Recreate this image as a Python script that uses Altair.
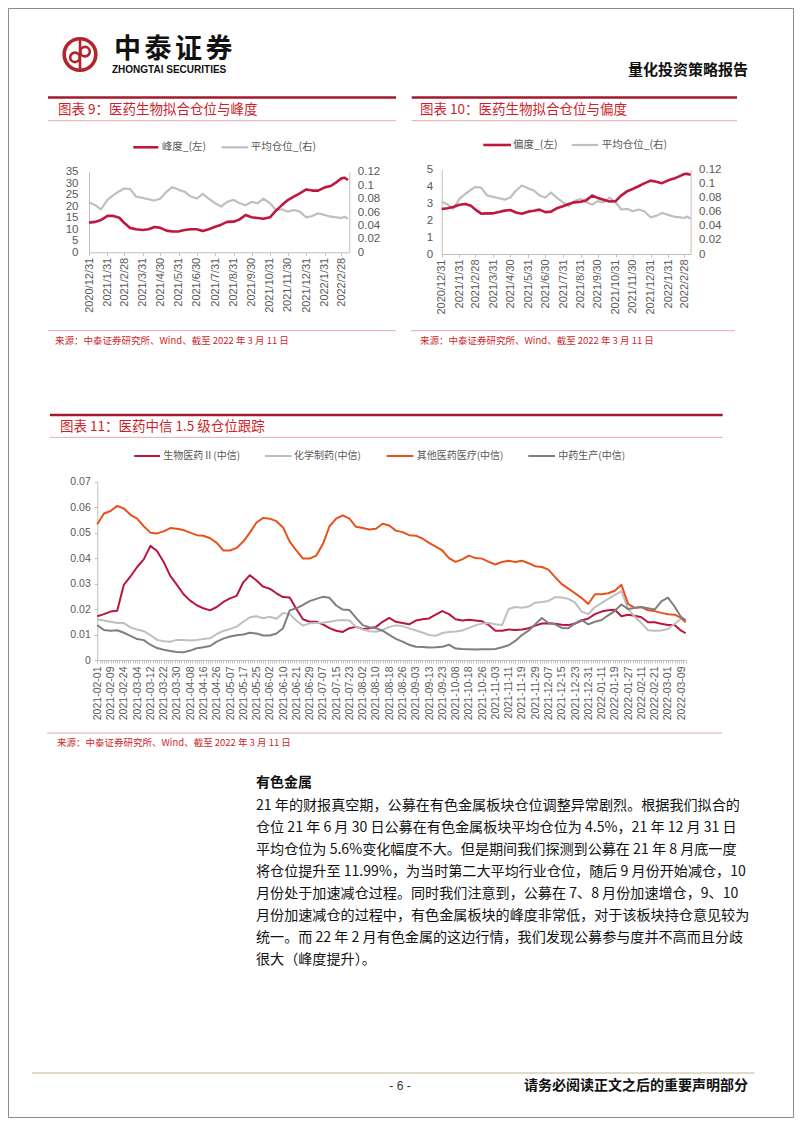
import json
import altair as alt
import pandas as pd

W, H = 786, 1110
OFF = 8  # page margin

CJK = "Noto Sans CJK SC"
LAT = "Liberation Sans"
C_RED = "#c0173e"
C_GRAY = "#bfbfbf"
C_ORANGE = "#e8511c"
C_DGRAY = "#7f7f7f"
C_TITLE = "#cc1f2c"
C_DARKRED = "#a31a2c"
C_PINK = "#e8a9ad"
C_AX = "#595959"

# ---------------- data: charts 9 / 10 ----------------
dates9 = ["2020-12-31", "2021-01-10", "2021-01-20", "2021-01-31", "2021-02-10", "2021-02-20",
          "2021-02-28", "2021-03-10", "2021-03-20", "2021-03-31", "2021-04-10", "2021-04-20",
          "2021-04-30", "2021-05-10", "2021-05-20", "2021-05-31", "2021-06-10", "2021-06-20",
          "2021-06-30", "2021-07-10", "2021-07-20", "2021-07-31", "2021-08-10", "2021-08-20",
          "2021-08-31", "2021-09-10", "2021-09-20", "2021-09-30", "2021-10-10", "2021-10-20",
          "2021-10-31", "2021-11-10", "2021-11-20", "2021-11-30", "2021-12-10", "2021-12-20",
          "2021-12-31", "2022-01-10", "2022-01-20", "2022-01-31", "2022-02-10", "2022-02-20",
          "2022-02-28", "2022-03-05", "2022-03-11"]
kurtosis = [12.9, 13.2, 14.0, 15.8, 15.8, 15.0, 12.8, 10.6, 10.0, 9.7, 10.0, 11.0,
            10.6, 9.4, 9.0, 9.1, 9.7, 10.0, 10.0, 9.2, 10.0, 11.1, 12.0, 13.2,
            13.3, 14.3, 16.2, 15.2, 14.9, 14.6, 15.2, 18.1, 20.5, 22.7, 24.2, 25.6,
            27.3, 26.8, 26.8, 28.2, 28.8, 30.5, 32.1, 32.4, 31.4]
skewness = [2.66, 2.70, 2.78, 2.91, 2.95, 2.85, 2.62, 2.38, 2.40, 2.40, 2.48, 2.56,
            2.60, 2.45, 2.38, 2.50, 2.55, 2.62, 2.47, 2.50, 2.70, 2.82, 2.95, 3.05,
            3.08, 3.18, 3.45, 3.30, 3.20, 3.10, 3.12, 3.46, 3.70, 3.84, 4.00, 4.17,
            4.33, 4.27, 4.18, 4.35, 4.45, 4.60, 4.72, 4.73, 4.68]
avg_position = [0.074, 0.0705, 0.064, 0.078, 0.085, 0.091, 0.095, 0.094, 0.083, 0.081, 0.079, 0.077,
                0.080, 0.090, 0.097, 0.093, 0.090, 0.083, 0.080, 0.087, 0.080, 0.073, 0.068, 0.075,
                0.078, 0.073, 0.070, 0.075, 0.073, 0.080, 0.073, 0.063, 0.064, 0.0605, 0.063, 0.0605,
                0.052, 0.054, 0.058, 0.0555, 0.053, 0.052, 0.051, 0.053, 0.050]
month_labels = ["2020/12/31", "2021/1/31", "2021/2/28", "2021/3/31", "2021/4/30", "2021/5/31",
                "2021/6/30", "2021/7/31", "2021/8/31", "2021/9/30", "2021/10/31", "2021/11/30",
                "2021/12/31", "2022/1/31", "2022/2/28"]

# ---------------- data: chart 11 (every 3rd trading day, last = 2022-03-11) ----------------
trade_labels = ["2021-02-01", "2021-02-09", "2021-02-24", "2021-03-04", "2021-03-12", "2021-03-22",
                "2021-03-30", "2021-04-08", "2021-04-16", "2021-04-26", "2021-05-07", "2021-05-17",
                "2021-05-25", "2021-06-02", "2021-06-10", "2021-06-21", "2021-06-29", "2021-07-07",
                "2021-07-15", "2021-07-23", "2021-08-02", "2021-08-10", "2021-08-18", "2021-08-26",
                "2021-09-03", "2021-09-13", "2021-09-23", "2021-10-08", "2021-10-18", "2021-10-26",
                "2021-11-03", "2021-11-11", "2021-11-19", "2021-11-29", "2021-12-07", "2021-12-15",
                "2021-12-23", "2021-12-31", "2022-01-11", "2022-01-19", "2022-01-27", "2022-02-11",
                "2022-02-21", "2022-03-01", "2022-03-09"]
bio_pharma = [0.0172, 0.0180, 0.0190, 0.0193, 0.0295, 0.0328, 0.0365, 0.0395, 0.0448, 0.0428,
              0.0385, 0.0330, 0.0295, 0.0258, 0.0233, 0.0215, 0.0203, 0.0195, 0.0208, 0.0228,
              0.0242, 0.0252, 0.0305, 0.0333, 0.0312, 0.0288, 0.0280, 0.0262, 0.0247, 0.0245,
              0.0200, 0.0160, 0.0150, 0.0150, 0.0140, 0.0125, 0.0115, 0.0110, 0.0125, 0.0130,
              0.0122, 0.0125, 0.0130, 0.0150, 0.0165, 0.0150, 0.0145, 0.0140, 0.0155, 0.0160,
              0.0163, 0.0178, 0.0192, 0.0180, 0.0160, 0.0155, 0.0158, 0.0155, 0.0152, 0.0137,
              0.0115, 0.0115, 0.0120, 0.0118, 0.0120, 0.0125, 0.0135, 0.0143, 0.0144, 0.0142,
              0.0138, 0.0137, 0.0143, 0.0155, 0.0163, 0.0180, 0.0190, 0.0195, 0.0197, 0.0172,
              0.0178, 0.0174, 0.0168, 0.0148, 0.0148, 0.0142, 0.0137, 0.0137, 0.0115, 0.0105]
chem_pharma = [0.0160, 0.0155, 0.0150, 0.0145, 0.0145, 0.0128, 0.0120, 0.0113, 0.0098, 0.0079,
               0.0074, 0.0072, 0.0079, 0.0079, 0.0077, 0.0079, 0.0082, 0.0085, 0.0102, 0.0114,
               0.0122, 0.0131, 0.0150, 0.0168, 0.0172, 0.0164, 0.0170, 0.0162, 0.0185, 0.0180,
               0.0155, 0.0135, 0.0144, 0.0145, 0.0146, 0.0150, 0.0155, 0.0157, 0.0155, 0.0130,
               0.0120, 0.0113, 0.0111, 0.0118, 0.0130, 0.0136, 0.0133, 0.0124, 0.0116, 0.0108,
               0.0098, 0.0095, 0.0106, 0.0110, 0.0112, 0.0116, 0.0126, 0.0136, 0.0143, 0.0145,
               0.0140, 0.0137, 0.0200, 0.0208, 0.0205, 0.0210, 0.0225, 0.0228, 0.0232, 0.0247,
               0.0245, 0.0240, 0.0225, 0.0190, 0.0180, 0.0208, 0.0223, 0.0240, 0.0255, 0.0270,
               0.0200, 0.0170, 0.0145, 0.0117, 0.0115, 0.0116, 0.0122, 0.0142, 0.0163, 0.0158]
other_medical = [0.0533, 0.0575, 0.0585, 0.0605, 0.0595, 0.0570, 0.0555, 0.0525, 0.0500, 0.0497,
                 0.0505, 0.0518, 0.0515, 0.0510, 0.0500, 0.0490, 0.0488, 0.0478, 0.0460, 0.0430,
                 0.0430, 0.0440, 0.0465, 0.0500, 0.0540, 0.0558, 0.0555, 0.0545, 0.0520, 0.0465,
                 0.0430, 0.0398, 0.0398, 0.0410, 0.0455, 0.0525, 0.0555, 0.0568, 0.0555, 0.0523,
                 0.0518, 0.0512, 0.0515, 0.0535, 0.0528, 0.0508, 0.0502, 0.0490, 0.0488, 0.0477,
                 0.0460, 0.0445, 0.0430, 0.0400, 0.0385, 0.0395, 0.0410, 0.0400, 0.0398, 0.0385,
                 0.0375, 0.0385, 0.0390, 0.0385, 0.0390, 0.0380, 0.0368, 0.0365, 0.0355, 0.0325,
                 0.0298, 0.0280, 0.0262, 0.0243, 0.0220, 0.0258, 0.0258, 0.0262, 0.0272, 0.0295,
                 0.0220, 0.0205, 0.0208, 0.0195, 0.0192, 0.0185, 0.0180, 0.0178, 0.0165, 0.0148]
tcm = [0.0137, 0.0118, 0.0115, 0.0117, 0.0107, 0.0095, 0.0082, 0.0078, 0.0060, 0.0047,
       0.0040, 0.0035, 0.0031, 0.0030, 0.0037, 0.0046, 0.0050, 0.0055, 0.0072, 0.0084,
       0.0092, 0.0097, 0.0100, 0.0107, 0.0104, 0.0096, 0.0096, 0.0104, 0.0125, 0.0195,
       0.0203, 0.0216, 0.0231, 0.0240, 0.0248, 0.0244, 0.0214, 0.0198, 0.0196, 0.0165,
       0.0137, 0.0129, 0.0125, 0.0115, 0.0099, 0.0083, 0.0072, 0.0060, 0.0052, 0.0051,
       0.0049, 0.0050, 0.0052, 0.0060, 0.0045, 0.0043, 0.0042, 0.0041, 0.0042, 0.0042,
       0.0043, 0.0050, 0.0058, 0.0075, 0.0098, 0.0115, 0.0140, 0.0165, 0.0145, 0.0140,
       0.0126, 0.0125, 0.0144, 0.0157, 0.0140, 0.0150, 0.0157, 0.0175, 0.0193, 0.0218,
       0.0200, 0.0204, 0.0208, 0.0203, 0.0198, 0.0230, 0.0245, 0.0210, 0.0168, 0.0157]
trade_day_idx = [3 * i for i in range(89)] + [266]

# ---------------- text content ----------------
para_lines = [
    "21 年的财报真空期，公募在有色金属板块仓位调整异常剧烈。根据我们拟合的",
    "仓位 21 年 6 月 30 日公募在有色金属板块平均仓位为 4.5%，21 年 12 月 31 日",
    "平均仓位为 5.6%变化幅度不大。但是期间我们探测到公募在 21 年 8 月底一度",
    "将仓位提升至 11.99%，为当时第二大平均行业仓位，随后 9 月份开始减仓，10",
    "月份处于加速减仓过程。同时我们注意到，公募在 7、8 月份加速增仓，9、10",
    "月份加速减仓的过程中，有色金属板块的峰度非常低，对于该板块持仓意见较为",
    "统一。而 22 年 2 月有色金属的这边行情，我们发现公募参与度并不高而且分歧",
    "很大（峰度提升）。",
]
SRC = "来源：中泰证券研究所、Wind、截至 2022 年 3 月 11 日"


def P(v):
    return v - OFF


base = pd.Timestamp("2020-12-31")
day9 = [(pd.Timestamp(d) - base).days for d in dates9]
df9 = pd.DataFrame({"d": day9, "kurt": kurtosis, "skew": skewness, "pos": avg_position})
tick9 = [(pd.to_datetime(s, format="%Y/%m/%d") - base).days for s in month_labels]
expr9 = f"{json.dumps(month_labels)}[indexof({json.dumps(tick9)}, datum.value)]"

df11 = pd.DataFrame({"d": trade_day_idx, "bio": bio_pharma, "chem": chem_pharma,
                     "oth": other_medical, "tcm": tcm})
expr11 = f"datum.value % 6 == 0 ? {json.dumps(trade_labels)}[datum.value / 6] : ''"

AXBASE = dict(grid=False, title=None, labelFont=LAT, labelColor=C_AX, domainColor="#bfbfbf",
              tickColor="#bfbfbf", labelOverlap=False, labelFlush=False)


def xaxis_month(axis_y, size=11):
    return alt.Axis(orient="bottom", offset=axis_y - H, values=tick9, labelExpr=expr9,
                    labelAngle=270, labelFontSize=size, tickSize=3, labelPadding=2, **AXBASE)


def yaxis(orient, pos_x, values, fmt, size, pad, ticks=0):
    off = -pos_x if orient == "left" else pos_x - W
    return alt.Axis(orient=orient, offset=off, values=values, format=fmt, labelFontSize=size,
                    tickSize=ticks, labelPadding=pad, **AXBASE)


def line(df, xf, yf, xs, ys, color, width, xa=None, ya=None):
    return alt.Chart(df).mark_line(color=color, strokeWidth=width, strokeJoin="round").encode(
        x=alt.X(f"{xf}:Q", scale=xs, axis=xa),
        y=alt.Y(f"{yf}:Q", scale=ys, axis=ya),
    )


def sc(domain, rng):
    return alt.Scale(domain=domain, range=rng, nice=False, zero=False)


layers = []

# page frame
layers.append(alt.Chart(pd.DataFrame({"a": [0]})).mark_rect(fillOpacity=0, stroke="#8c8c8c", strokeWidth=1).encode(
    x=alt.value(0.5), x2=alt.value(W - 0.5), y=alt.value(0.5), y2=alt.value(H - 0.5)))

# ---- chart 9 ----
x9 = sc([0, 437.2], [P(89), P(349.3)])
y9l = sc([0, 35], [P(252.3), P(171.7)])
y9r = sc([0, 0.12], [P(252.3), P(171.7)])
layers.append(line(df9, "d", "pos", x9, y9r, C_GRAY, 2.2,
                   ya=yaxis("right", P(349.3), [0, 0.02, 0.04, 0.06, 0.08, 0.1, 0.12], ".2~f", 11.5, 8)))
layers.append(line(df9, "d", "kurt", x9, y9l, C_RED, 2.6, xa=xaxis_month(P(252.3)),
                   ya=yaxis("left", P(89), [0, 5, 10, 15, 20, 25, 30, 35], "d", 11.5, 11)))

# ---- chart 10 ----
x10 = sc([0, 435], [P(441.7), P(690.6)])
y10l = sc([0, 5], [P(254), P(169.3)])
y10r = sc([0, 0.12], [P(254), P(169.3)])
layers.append(line(df9, "d", "pos", x10, y10r, C_GRAY, 2.2,
                   ya=yaxis("right", P(690.6), [0, 0.02, 0.04, 0.06, 0.08, 0.1, 0.12], ".2~f", 11.5, 8)))
layers.append(line(df9, "d", "skew", x10, y10l, C_RED, 2.6, xa=xaxis_month(P(254)),
                   ya=yaxis("left", P(441.7), [0, 1, 2, 3, 4, 5], "d", 11.5, 9)))

# ---- chart 11 ----
x11 = sc([0, 266], [P(97.3), P(97.3 + 266 * 2.2117)])
y11 = sc([0, 0.07], [P(660), P(481.7)])
ax11x = alt.Axis(orient="bottom", offset=P(660) - H, values=list(range(267)), labelExpr=expr11,
                 labelAngle=270, labelFontSize=10.5, tickSize=3, labelPadding=3, **AXBASE)
ax11y = yaxis("left", P(97.3), [0, 0.01, 0.02, 0.03, 0.04, 0.05, 0.06, 0.07], ".2~f", 10.5, 4, ticks=3)
layers.append(line(df11, "d", "bio", x11, y11, "#b8163c", 2.0, xa=ax11x, ya=ax11y))
layers.append(line(df11, "d", "chem", x11, y11, C_GRAY, 2.0))
layers.append(line(df11, "d", "oth", x11, y11, C_ORANGE, 2.0))
layers.append(line(df11, "d", "tcm", x11, y11, C_DGRAY, 2.0))

# ---- decoration rules ----
rules = [
    # (x1, y1, x2, y2, color, width) in page coords
    (48, 97.5, 396, 97.5, C_DARKRED, 2.5), (48, 120.7, 396, 120.7, C_PINK, 1),
    (411.7, 97.5, 737, 97.5, C_DARKRED, 2.5), (411.7, 120.7, 737, 120.7, C_PINK, 1),
    (48, 330.7, 396, 330.7, C_PINK, 1), (411, 330.7, 735, 330.7, C_PINK, 1),
    (50, 415, 722.7, 415, C_DARKRED, 2.5), (50, 437.3, 722.7, 437.3, C_PINK, 1),
    (47, 733, 722, 733, C_PINK, 1),
    (31.7, 1073, 754.5, 1073, "#d8cdb9", 1.5),
    # legend samples
    (133.3, 147.3, 158.3, 147.3, C_RED, 2.6), (221.7, 147.3, 248.3, 147.3, C_GRAY, 2.2),
    (483.3, 145, 511, 145, C_RED, 2.6), (571.7, 145, 598.3, 145, C_GRAY, 2.2),
    (134.3, 456, 160, 456, "#b8163c", 2), (265, 456, 291.7, 456, C_GRAY, 2),
    (386.7, 456, 413.3, 456, C_ORANGE, 2), (528.3, 456, 555, 456, C_DGRAY, 2),
    # logo stem
    (80, 39.5, 80, 69.5, "#b5232d", 2.6),
]
rdf = pd.DataFrame(rules, columns=["x", "y", "x2", "y2", "c", "w"])
for col in ["x", "y", "x2", "y2"]:
    rdf[col] = rdf[col] - OFF
layers.append(alt.Chart(rdf).mark_rule(strokeCap="butt").encode(
    x=alt.X("x:Q", scale=None, axis=None), x2="x2:Q",
    y=alt.Y("y:Q", scale=None, axis=None), y2="y2:Q",
    color=alt.Color("c:N", scale=None), strokeWidth=alt.StrokeWidth("w:Q", scale=None)))

# logo ring and loops
logo = pd.DataFrame({"x": [P(80)], "y": [P(54.5)]})
layers.append(alt.Chart(logo).mark_point(shape="circle", size=1000, filled=False, stroke="#b5232d",
                                         strokeWidth=3.6, opacity=1).encode(
    x=alt.X("x:Q", scale=None, axis=None), y=alt.Y("y:Q", scale=None, axis=None)))
loops = ("M-0.02,0.18 A0.3,0.3 0 1,1 -0.62,0.18 A0.3,0.3 0 1,1 -0.02,0.18 "
         "M0.62,-0.18 A0.3,0.3 0 1,1 0.02,-0.18 A0.3,0.3 0 1,1 0.62,-0.18")
layers.append(alt.Chart(logo).mark_point(shape=loops, size=1000, filled=False, stroke="#b5232d",
                                         strokeWidth=2.6, opacity=1).encode(
    x=alt.X("x:Q", scale=None, axis=None), y=alt.Y("y:Q", scale=None, axis=None)))


def texts(items, size, color, font=CJK, weight="normal", align="left", baseline="middle"):
    df = pd.DataFrame(items, columns=["x", "y", "t"])
    df["x"] = df["x"] - OFF
    df["y"] = df["y"] - OFF
    return alt.Chart(df).mark_text(font=font, fontSize=size, color=color, fontWeight=weight,
                                   align=align, baseline=baseline).encode(
        x=alt.X("x:Q", scale=None, axis=None), y=alt.Y("y:Q", scale=None, axis=None), text="t:N")


# header
layers.append(texts([(127.5, 49.5, "中"), (158, 49.5, "泰"), (188.5, 49.5, "证"), (219, 49.5, "券")],
                    27, "#111111", weight="bold", align="center"))
layers.append(texts([(112, 70, "ZHONGTAI SECURITIES")], 10, "#111111", font=LAT, weight="bold"))
layers.append(texts([(748, 69.5, "量化投资策略报告")], 15, "#111111", weight="bold", align="right"))

# chart titles
layers.append(texts([(58, 110, "图表 9：医药生物拟合仓位与峰度"),
                     (420, 110, "图表 10：医药生物拟合仓位与偏度"),
                     (60, 426.7, "图表 11：医药中信 1.5 级仓位跟踪")], 13.5, C_TITLE))
# sources
layers.append(texts([(55, 340.7, SRC), (420, 340.7, SRC), (57, 742.5, SRC)], 9.5, C_TITLE))
# legends
layers.append(texts([(161.7, 147.3, "峰度_(左)"), (250.7, 147.3, "平均仓位_(右)"),
                     (513, 145, "偏度_(左)"), (601.7, 145, "平均仓位_(右)")], 10.5, C_AX))
layers.append(texts([(163.3, 456, "生物医药Ⅱ(中信)"), (294, 456, "化学制药(中信)"),
                     (416.7, 456, "其他医药医疗(中信)"), (558.3, 456, "中药生产(中信)")], 10, C_AX))

# body text
layers.append(texts([(256, 783, "有色金属")], 14, "#111111", weight="bold"))
layers.append(texts([(256, 806 + 22 * i, t) for i, t in enumerate(para_lines)], 14.1, "#111111"))

# footer
layers.append(texts([(400, 1086, "- 6 -")], 12, "#333333", font=LAT, align="center"))
layers.append(texts([(748, 1086, "请务必阅读正文之后的重要声明部分")], 14, "#111111",
                    weight="bold", align="right"))

chart = alt.layer(*layers).resolve_scale(x="independent", y="independent").properties(
    width=W, height=H, padding=0, autosize=alt.AutoSizeParams(type="none"),
).configure_view(stroke=None).configure(background="white", font=CJK)

chart.save("out.html", embed_options={"renderer": "svg", "actions": False})
